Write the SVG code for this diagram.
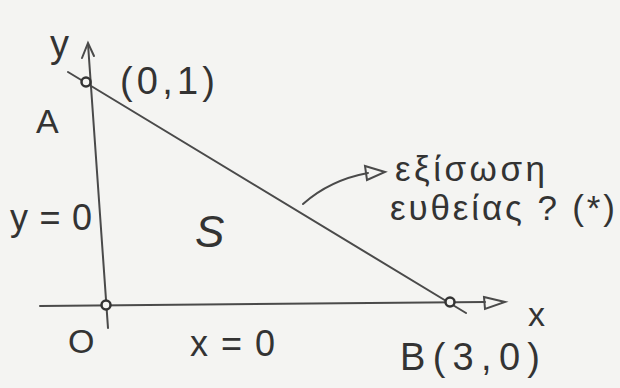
<svg xmlns="http://www.w3.org/2000/svg" width="620" height="388" viewBox="0 0 620 388">
<style>
.ln{stroke:#4a4a4a;stroke-width:2;fill:none;stroke-linecap:round}
.pt{stroke:#333;stroke-width:2.5;fill:#f4f4f2}
.t{font-family:"Liberation Sans","DejaVu Sans",sans-serif;fill:#333}
</style>
<rect width="620" height="388" fill="#f4f4f2"/>
<g id="connectors">
<path id="yaxis" class="ln" d="M108,328 L88,44"/>
<path class="ln" d="M82,58 L88,43 L94,56"/>
<path id="xaxis" class="ln" d="M40,306 L485,302"/>
<path class="ln" d="M484,297 L505,302 L485,309 Z"/>
<path id="hyp" class="ln" d="M68,72 L466,313"/>
<path id="note" class="ln" d="M303,204 Q330,180 368,173"/>
<path class="ln" d="M365,166 L385,172 L367,180 Z"/>
</g>
<g id="A"><circle class="pt" cx="86" cy="82" r="4.5"/><text class="t" x="36" y="133" font-size="34">A</text><text class="t" x="120" y="94" font-size="38" textLength="95" lengthAdjust="spacing">(0,1)</text></g>
<g id="O"><circle class="pt" cx="106" cy="305" r="4.5"/><text class="t" x="68" y="353" font-size="34">O</text></g>
<g id="B"><circle class="pt" cx="450" cy="302" r="4.5"/><text class="t" x="400" y="370" font-size="38" textLength="140" lengthAdjust="spacing">B(3,0)</text></g>
<g id="labels">
<text class="t" x="50" y="57" font-size="38">y</text>
<text class="t" x="528" y="326" font-size="34">x</text>
<text class="t" x="10" y="230" font-size="36" textLength="82" lengthAdjust="spacing">y=0</text>
<text class="t" x="190" y="356" font-size="36" textLength="85" lengthAdjust="spacing">x=0</text>
<text class="t" x="195" y="247" font-size="44" font-style="italic">S</text>
<text class="t" x="395" y="181" font-size="35" textLength="150" lengthAdjust="spacing">εξίσωση</text>
<text class="t" x="390" y="220" font-size="35" textLength="225" lengthAdjust="spacing">ευθείας ? (*)</text>
</g>
</svg>
